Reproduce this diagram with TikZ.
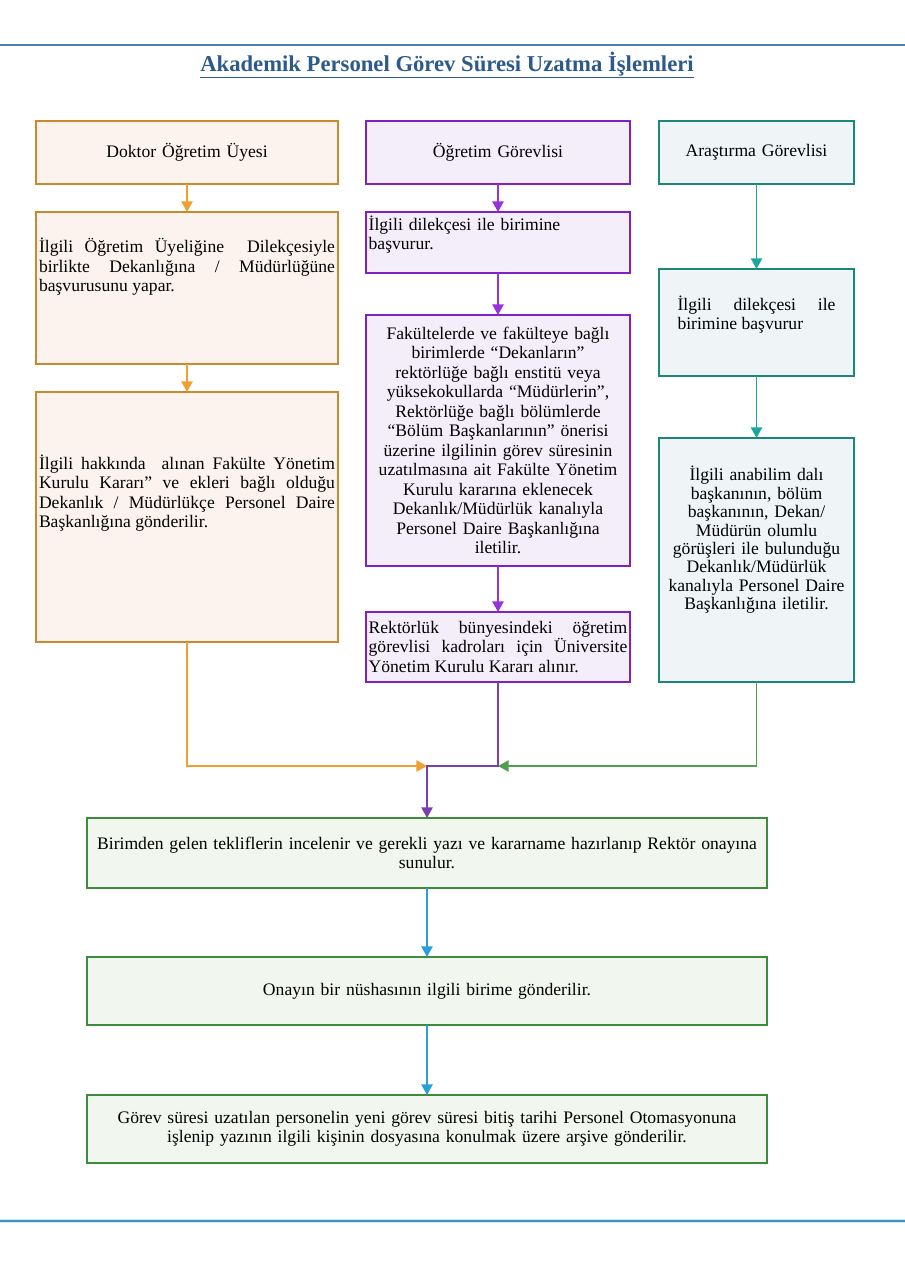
\documentclass[tikz,border=0pt]{standalone}
\usepackage{fontspec}
\setmainfont{Liberation Serif}
\usetikzlibrary{positioning, arrows.meta, calc}

\definecolor{drline}{HTML}{C98A2E}
\definecolor{drfill}{HTML}{FCF3EE}
\definecolor{drarrow}{HTML}{EFA02E}
\definecolor{ogline}{HTML}{7E22C4}
\definecolor{ogfill}{HTML}{F4EEFB}
\definecolor{ogarrow}{HTML}{9632E0}
\definecolor{ogjoin}{HTML}{7A3FAE}
\definecolor{agline}{HTML}{1C857E}
\definecolor{agfill}{HTML}{EFF4F6}
\definecolor{agarrow}{HTML}{1CA69F}
\definecolor{agjoin}{HTML}{4E9E4E}
\definecolor{stline}{HTML}{3E8B3E}
\definecolor{stfill}{HTML}{F1F7EF}
\definecolor{starrow}{HTML}{2B9FD9}
\definecolor{rulecol}{HTML}{4E7FA6}
\definecolor{titlecol}{HTML}{2C5A8A}

% empty space under the text of a box
\newcommand{\padbelow}[1]{\par\nointerlineskip\vbox to #1{}}

\begin{document}
\begin{tikzpicture}[x=0.75pt, y=-0.75pt, node distance=21pt,
        font=\fontsize{13.2}{14.6}\selectfont,
        box/.style={rectangle, draw, line width=2.1pt, outer sep=0pt, inner xsep=2pt, inner ysep=2pt},
        drbox/.style={box, draw=drline, fill=drfill, minimum width=226.5pt, text width=222pt, align=justify},
        ogbox/.style={box, draw=ogline, fill=ogfill, minimum width=198pt, text width=194pt, align=center},
        agbox/.style={box, draw=agline, fill=agfill, minimum width=146.25pt, text width=140pt, align=center},
        stbox/.style={box, draw=stline, fill=stfill, inner xsep=1pt, minimum width=510pt, text width=508pt, align=center},
        line/.style={draw, line width=1.1pt, -{Triangle[length=8pt, width=8.5pt]}}]

        \useasboundingbox (0,0) rectangle (905,1280);

        % Page rules and title
        \draw [rulecol, line width=1.4pt] (0,45) -- (905,45);
        \draw [cyan!20, line width=3pt] (0,1221) -- (905,1221);
        \draw [rulecol!85!cyan, line width=1.3pt] (0,1221) -- (905,1221);
        \node [text=titlecol, font=\fontsize{17}{20}\selectfont\bfseries] (title) at (447,65)
            {\underline{Akademik Personel Görev Süresi Uzatma İşlemleri}};

        % Doktor Öğretim Üyesi
        \node [drbox, align=center, minimum height=47.25pt, anchor=north] (dr1) at (187,121) {Doktor Öğretim Üyesi};
        \node [drbox, minimum height=114pt, below=21pt of dr1] (dr2)
            {İlgili Öğretim Üyeliğine\ \ Dilekçesiyle\linebreak birlikte Dekanlığına / Müdürlüğüne\linebreak başvurusunu yapar.\padbelow{32pt}};
        \node [drbox, minimum height=187.5pt, below=21pt of dr2] (dr3)
            {İlgili hakkında\ \ alınan Fakülte Yönetim\linebreak Kurulu Kararı” ve ekleri bağlı olduğu\linebreak Dekanlık / Müdürlükçe Personel Daire\linebreak Başkanlığına gönderilir.\padbelow{36pt}};

        % Öğretim Görevlisi
        \node [ogbox, minimum height=47.25pt, anchor=north] (og1) at (498,121) {Öğretim Görevlisi};
        \node [ogbox, align=left, minimum height=45.75pt, below=21pt of og1] (og2)
            {İlgili dilekçesi ile birimine\\ başvurur.\padbelow{12pt}};
        \node [ogbox, minimum height=188.25pt, below=31.5pt of og2] (og3)
            {Fakültelerde ve fakülteye bağlı\\ birimlerde “Dekanların”\\ rektörlüğe bağlı enstitü veya\\ yüksekokullarda “Müdürlerin”,\\ Rektörlüğe bağlı bölümlerde\\ “Bölüm Başkanlarının” önerisi\\ üzerine ilgilinin görev süresinin\\ uzatılmasına ait Fakülte Yönetim\\ Kurulu kararına eklenecek\\ Dekanlık/Müdürlük kanalıyla\\ Personel Daire Başkanlığına\\ iletilir.};
        \node [ogbox, align=justify, minimum height=52.5pt, below=34.5pt of og3] (og4)
            {Rektörlük bünyesindeki öğretim\linebreak görevlisi kadroları için Üniversite\linebreak Yönetim Kurulu Kararı alınır.};

        % Araştırma Görevlisi
        \node [agbox, minimum height=47.25pt, anchor=north] (ag1) at (756.5,121) {Araştırma Görevlisi};
        \node [agbox, align=justify, text width=118.5pt, minimum height=80.25pt, below=63.75pt of ag1] (ag2)
            {İlgili dilekçesi ile\linebreak birimine başvurur\padbelow{12pt}};
        \node [agbox, font=\fontsize{13.2}{13.8}\selectfont, minimum height=183pt, below=46.5pt of ag2] (ag3)
            {İlgili anabilim dalı\\ başkanının, bölüm\\ başkanının, Dekan/\hspace*{4.5em}\\ Müdürün olumlu\\ görüşleri ile bulunduğu\\ Dekanlık/Müdürlük\\ kanalıyla Personel Daire\\ Başkanlığına iletilir.\padbelow{30pt}};

        % Ortak adımlar
        \node [stbox, minimum height=52.5pt, anchor=north] (st1) at (427,818)
            {Birimden gelen tekliflerin incelenir ve gerekli yazı ve kararname hazırlanıp Rektör onayına\\ sunulur.};
        \node [stbox, minimum height=51pt, below=51.75pt of st1] (st2)
            {Onayın bir nüshasının ilgili birime gönderilir.};
        \node [stbox, minimum height=51pt, below=52.5pt of st2] (st3)
            {Görev süresi uzatılan personelin yeni görev süresi bitiş tarihi Personel Otomasyonuna\\ işlenip yazının ilgili kişinin dosyasına konulmak üzere arşive gönderilir.};

        \coordinate (join) at (427,766);
        \coordinate (meet) at (og4.south |- join);

        % Connections
        \path [line, drarrow] (dr1) -- (dr2);
        \path [line, drarrow] (dr2) -- (dr3);
        \path [line, ogarrow] (og1) -- (og2);
        \path [line, ogarrow] (og2) -- (og3);
        \path [line, ogarrow] (og3) -- (og4);
        \path [line, agarrow] (ag1) -- (ag2);
        \path [line, agarrow] (ag2) -- (ag3);
        \path [line, drarrow] (dr3.south) |- (join);
        \path [line, agjoin] (ag3.south) |- (meet);
        \path [line, ogjoin] (og4.south) -- (meet) -- (join) -- (st1);
        \path [line, starrow] (st1) -- (st2);
        \path [line, starrow] (st2) -- (st3);

    \end{tikzpicture}
\end{document}
